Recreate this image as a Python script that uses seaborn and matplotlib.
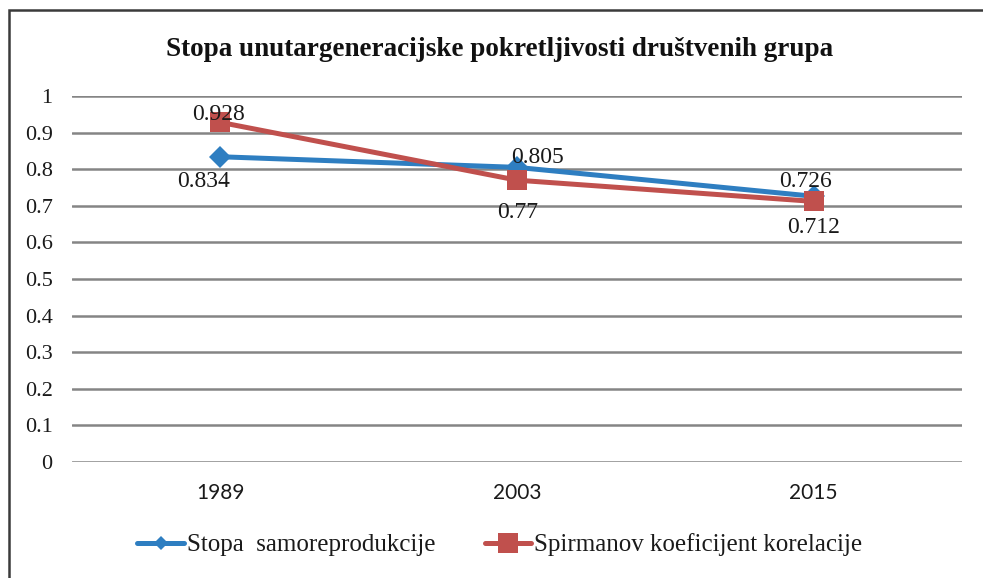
import matplotlib
matplotlib.use("Agg")
import matplotlib.pyplot as plt
import seaborn as sns
import pandas as pd
from matplotlib.patches import Rectangle

years = ["1989", "2003", "2015"]
series_names = ["Stopa  samoreprodukcije", "Spirmanov koeficijent korelacije"]
stopa = [0.834, 0.805, 0.726]
spirman = [0.928, 0.77, 0.712]
yticks = [0, 0.1, 0.2, 0.3, 0.4, 0.5, 0.6, 0.7, 0.8, 0.9, 1]
title = "Stopa unutargeneracijske pokretljivosti društvenih grupa"

sns.set_theme(style="white")
SERIF = ["Liberation Serif", "DejaVu Serif"]
plt.rcParams["font.family"] = SERIF

BLUE = "#2E7EC1"
RED = "#C0504D"

rows = []
for name, vals in zip(series_names, [stopa, spirman]):
    for i, (yr, v) in enumerate(zip(years, vals)):
        rows.append({"pos": i, "year": yr, "value": v, "series": name})
df = pd.DataFrame(rows)

fig = plt.figure(figsize=(9.83, 5.78), dpi=100)
ax = fig.add_axes([72 / 983, 1 - 462 / 578, 890 / 983, 366 / 578])

sns.lineplot(data=df, x="pos", y="value", hue="series", style="series",
             palette={series_names[0]: BLUE, series_names[1]: RED},
             markers={series_names[0]: "D", series_names[1]: "s"},
             dashes=False, linewidth=3.6, ax=ax, legend=True, clip_on=False,
             zorder=3)
for line in ax.lines:
    line.set_markeredgewidth(0)
    if line.get_marker() == "D":
        line.set_markersize(11)
    elif line.get_marker() == "s":
        line.set_markersize(14)

ax.set_xlim(-0.5, len(years) - 0.5)
ax.set_ylim(0, 1)
ax.set_yticks(yticks)
ax.set_yticklabels([("%g" % t) for t in yticks], fontsize=16, family=SERIF)
ax.set_xticks(range(len(years)))
ax.set_xticklabels(years, fontsize=15, family=["Lato", "DejaVu Sans"])
ax.tick_params(axis="y", length=0, pad=14)
ax.tick_params(axis="x", length=0, pad=15)
ax.set_xlabel("")
ax.set_ylabel("")
for sp in ax.spines.values():
    sp.set_visible(False)
ax.yaxis.grid(True, color="#858585", linewidth=1.8)
ax.xaxis.grid(False)
ax.set_axisbelow(True)
for lab in ax.get_yticklabels() + ax.get_xticklabels():
    lab.set_color("#1a1a1a")

# data labels
offsets_stopa = [(-17, -25), (20, 10), (-8, 15)]
offsets_spir = [(-2, 8), (1, -32), (0, -26)]
for i, v in enumerate(stopa):
    ax.annotate("%g" % v, (i, v), textcoords="offset pixels",
                xytext=offsets_stopa[i], ha="center", va="center",
                fontsize=17, color="#1a1a1a", zorder=5, family=SERIF)
for i, v in enumerate(spirman):
    ax.annotate("%g" % v, (i, v), textcoords="offset pixels",
                xytext=offsets_spir[i], ha="center", va="center",
                fontsize=17, color="#1a1a1a", zorder=5, family=SERIF)

fig.text(500 / 983, 1 - 50 / 578, title, ha="center", va="center",
         fontsize=19.5, fontweight="bold", color="#111111", family=SERIF)

leg = ax.legend(loc="center", bbox_to_anchor=(500 / 983, 1 - 545 / 578),
                bbox_transform=fig.transFigure, ncol=2, frameon=False,
                prop={"family": SERIF, "size": 18}, handlelength=1.85,
                handletextpad=0.12, columnspacing=2.0)
for h in leg.legend_handles:
    h.set_linewidth(3.6)
    h.set_markeredgewidth(0)
    if h.get_marker() == "D":
        h.set_markersize(7.5)
for t in leg.get_texts():
    t.set_color("#1a1a1a")

fig.patches.append(Rectangle((9 / 983, -0.1), 2, 1 - 10 / 578 + 0.1,
                             transform=fig.transFigure, fill=False,
                             edgecolor="#3a3a3a", linewidth=1.8))

fig.savefig("out.png", dpi=100)
